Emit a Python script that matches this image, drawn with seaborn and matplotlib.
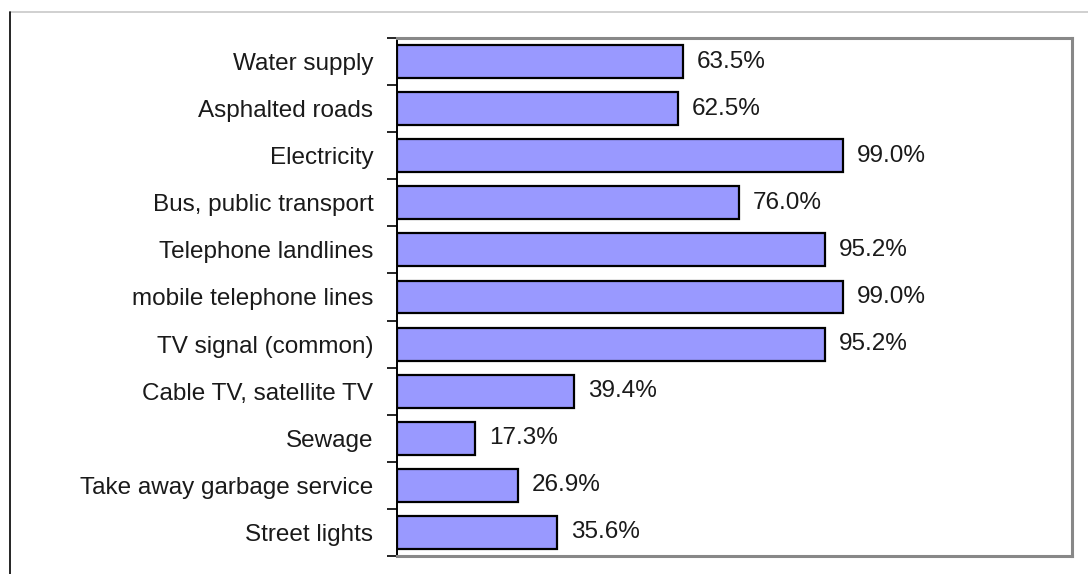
import pandas as pd
import seaborn as sns
import matplotlib.pyplot as plt
from matplotlib.lines import Line2D

services = ["Water supply", "Asphalted roads", "Electricity", "Bus, public transport",
            "Telephone landlines", "mobile telephone lines", "TV signal (common)",
            "Cable TV, satellite TV", "Sewage", "Take away garbage service", "Street lights"]
shares = [63.5, 62.5, 99.0, 76.0, 95.2, 99.0, 95.2, 39.4, 17.3, 26.9, 35.6]

df = pd.DataFrame({"service": services, "share": shares})

sns.set_style("white")
plt.rcParams["font.family"] = ["Liberation Sans", "DejaVu Sans"]

fig = plt.figure(figsize=(10.88, 5.74), dpi=100)
ax = fig.add_axes([397 / 1088, 1 - 556 / 574, (1072 - 397) / 1088, (556 - 38) / 574])

sns.barplot(data=df, x="share", y="service", orient="h", color="#9999FF",
            edgecolor="black", linewidth=1.6, width=0.7, saturation=1, ax=ax)

# value labels next to each bar
for i, v in enumerate(shares):
    ax.annotate(f"{v:.1f}%", xy=(v, i), xytext=(10, 0), textcoords="offset points",
                va="center", ha="left", fontsize=17.5, color="#1a1a1a")

ax.set_xlim(0, 150)
ax.set_ylim(len(services) - 0.5, -0.5)
ax.set_xlabel("")
ax.set_ylabel("")
ax.set_xticks([])

# labels at centres, tick marks between categories
ax.set_yticks(range(len(services)))
ax.set_yticklabels(services, fontsize=17.5, color="#1a1a1a")
ax.set_yticks([i - 0.5 for i in range(len(services) + 1)], minor=True)
ax.tick_params(axis="y", which="major", length=0, pad=17)
ax.tick_params(axis="y", which="minor", length=7, width=1.2, color="black", left=True)

for side in ["top", "right", "bottom"]:
    ax.spines[side].set_color("#888888")
    ax.spines[side].set_linewidth(2.2)
ax.spines["left"].set_color("black")
ax.spines["left"].set_linewidth(1.4)

# outer frame lines of the original slide
fig.add_artist(Line2D([10 / 1088, 1], [1 - 12 / 574, 1 - 12 / 574], color="#c8c8c8", lw=1.2))
fig.add_artist(Line2D([10 / 1088, 10 / 1088], [0, 1 - 12 / 574], color="black", lw=1.2))

fig.savefig("out.png", dpi=100)
